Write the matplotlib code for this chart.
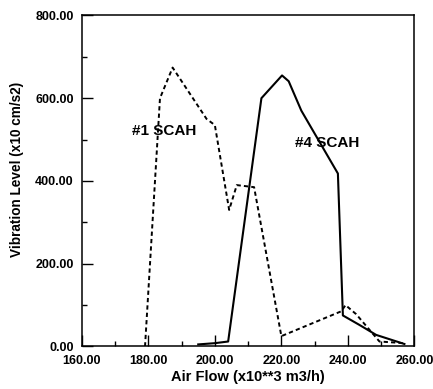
import matplotlib
matplotlib.use("Agg")
import matplotlib.pyplot as plt
from matplotlib.ticker import MultipleLocator, FormatStrFormatter

plt.rcParams['font.family'] = ['Liberation Sans', 'DejaVu Sans']

# Vibration level vs air flow for the two air heaters
scah1_flow = [179.0, 183.5, 187.3, 197.5, 200.0, 204.3, 206.6, 211.8, 220.0,
              238.0, 239.3, 242.5, 249.5, 257.0]
scah1_vib = [0, 600, 674, 550, 535, 330, 390, 385, 25,
             85, 100, 78, 12, 8]

scah4_flow = [195.0, 200.0, 204.0, 214.0, 220.2, 222.2, 226.0, 237.0,
              238.5, 243.5, 248.5, 257.0]
scah4_vib = [5, 8, 12, 600, 655, 641, 570, 418,
             75, 52, 28, 6]

fig = plt.figure(figsize=(4.33, 3.89), dpi=100)
ax = fig.add_axes([0.189, 0.1093, 0.768, 0.851])

ax.plot(scah1_flow, scah1_vib, color='black', lw=1.4,
        linestyle=(0, (2.2, 1.6)))
ax.plot(scah4_flow, scah4_vib, color='black', lw=1.5)

ax.text(184.7, 521, '#1 SCAH', fontsize=11, fontweight='bold',
        ha='center', va='center')
ax.text(233.7, 492, '#4 SCAH', fontsize=11, fontweight='bold',
        ha='center', va='center')

ax.set_xlim(160, 260)
ax.set_ylim(0, 800)
ax.xaxis.set_major_locator(MultipleLocator(20))
ax.xaxis.set_minor_locator(MultipleLocator(10))
ax.yaxis.set_major_locator(MultipleLocator(200))
ax.yaxis.set_minor_locator(MultipleLocator(100))
ax.xaxis.set_major_formatter(FormatStrFormatter('%.2f'))
ax.yaxis.set_major_formatter(FormatStrFormatter('%.2f'))

ax.tick_params(which='major', direction='in', length=8, width=1,
               labelsize=9, pad=6, top=False, right=False)
ax.tick_params(which='minor', direction='in', length=3.5, width=1,
               top=False, right=False)
for lbl in ax.get_xticklabels() + ax.get_yticklabels():
    lbl.set_fontweight('bold')
for s in ax.spines.values():
    s.set_linewidth(1.1)

ax.set_xlabel('Air Flow (x10**3 m3/h)', fontsize=10.5, fontweight='bold',
              labelpad=2)
ax.set_ylabel('Vibration Level (x10 cm/s2)', fontsize=9.8, fontweight='bold',
              va='center')
ax.yaxis.set_label_coords(-0.196, 0.536)

fig.savefig('out.png', dpi=100)
